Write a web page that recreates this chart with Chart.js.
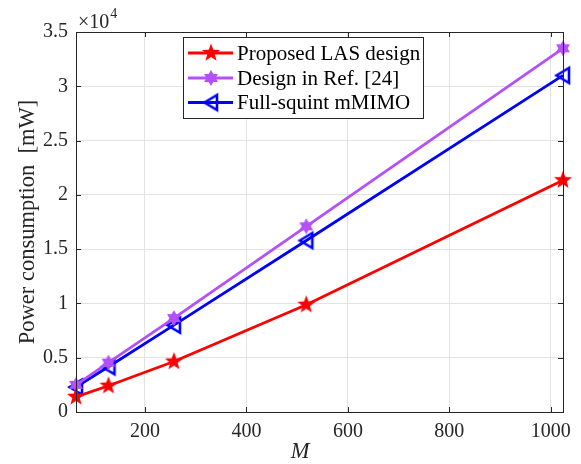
<!DOCTYPE html>
<html>
<head>
<meta charset="utf-8">
<script src="https://cdn.jsdelivr.net/npm/chart.js@4/dist/chart.umd.min.js"></script>
<style>
html,body{margin:0;padding:0;background:#fff;}
#wrap{width:581px;height:464px;position:relative;}
</style>
</head>
<body>
<div id="wrap"><canvas id="c" width="581" height="464"></canvas></div>
<script>
// ---- Data ----
const M_values = [64, 128, 257, 518, 1024];
const proposedLAS = [1400, 2420, 4650, 9880, 21350];
const designRef24 = [2500, 4550, 8650, 17100, 33500];
const fullSquint = [2300, 4170, 8000, 15800, 31000];
const seriesLabels = ['Proposed LAS design', 'Design in Ref. [24]', 'Full-squint mMIMO'];
const xTicks = [200, 400, 600, 800, 1000];
const yTicks = [0, 5000, 10000, 15000, 20000, 25000, 30000, 35000];
const yTickLabels = ['0', '0.5', '1', '1.5', '2', '2.5', '3', '3.5'];

const RED = '#ff0000', PURPLE = 'rgb(180,80,250)', BLUE = '#0000ff';
const FONT = "'Liberation Serif', 'Times New Roman', serif";
const AXC = '#262626';

function makeMarker(kind, color) {
  const s = 26, c = document.createElement('canvas');
  c.width = s; c.height = s;
  const g = c.getContext('2d');
  g.translate(s / 2, s / 2);
  g.beginPath();
  if (kind === 'star5') {
    const R = 9.5, r = 3.9;
    for (let i = 0; i < 10; i++) {
      const a = -Math.PI / 2 + i * Math.PI / 5;
      const rr = i % 2 ? r : R;
      g.lineTo(rr * Math.cos(a), rr * Math.sin(a));
    }
    g.closePath(); g.fillStyle = color; g.fill();
  } else if (kind === 'hex') {
    const R = 8, r = 4.6;
    for (let i = 0; i < 12; i++) {
      const a = -Math.PI / 2 + i * Math.PI / 6;
      const rr = i % 2 ? r : R;
      g.lineTo(rr * Math.cos(a), rr * Math.sin(a));
    }
    g.closePath(); g.fillStyle = color; g.fill();
  } else {
    g.moveTo(-6.5, 0); g.lineTo(6, -7.5); g.lineTo(6, 7.5); g.closePath();
    g.strokeStyle = color; g.lineWidth = 2.6; g.lineJoin = 'miter'; g.stroke();
  }
  return c;
}
const markers = [makeMarker('star5', RED), makeMarker('hex', PURPLE), makeMarker('tri', BLUE)];

function pts(ys) { return M_values.map((x, i) => ({x: x, y: ys[i]})); }

const frame = {
  id: 'frame',
  afterDraw(chart) {
    const {ctx, chartArea: a, scales} = chart;
    ctx.save();
    ctx.strokeStyle = AXC; ctx.lineWidth = 1;
    ctx.strokeRect(Math.round(a.left) + 0.5, Math.round(a.top) + 0.5, Math.round(a.right - a.left), Math.round(a.bottom - a.top));
    const tl = 5;
    ctx.beginPath();
    xTicks.forEach(v => {
      const x = Math.round(scales.x.getPixelForValue(v)) + 0.5;
      ctx.moveTo(x, a.bottom); ctx.lineTo(x, a.bottom - tl);
      ctx.moveTo(x, a.top); ctx.lineTo(x, a.top + tl);
    });
    yTicks.forEach(v => {
      const y = Math.round(scales.y.getPixelForValue(v)) + 0.5;
      ctx.moveTo(a.left, y); ctx.lineTo(a.left + tl, y);
      ctx.moveTo(a.right, y); ctx.lineTo(a.right - tl, y);
    });
    ctx.stroke();
    ctx.fillStyle = AXC;
    ctx.textBaseline = 'alphabetic'; ctx.textAlign = 'left';
    ctx.font = '20px ' + FONT;
    ctx.fillText('\u00d710', 78, 28);
    const w = ctx.measureText('\u00d710').width;
    ctx.font = '14px ' + FONT;
    ctx.fillText('4', 78 + w + 1, 18);
    ctx.font = '22.5px ' + FONT;
    ctx.textAlign = 'center'; ctx.textBaseline = 'middle';
    ctx.save();
    ctx.translate(28, 222); ctx.rotate(-Math.PI / 2);
    ctx.fillText('Power consumption  [mW]', 0, 0);
    ctx.restore();
    ctx.font = 'italic 22.5px ' + FONT;
    ctx.textBaseline = 'alphabetic';
    ctx.fillText('M', 300, 458);
    // legend
    const lx = 183, ly = 37, lw = 240, lh = 81;
    ctx.fillStyle = '#fff';
    ctx.fillRect(lx, ly, lw, lh);
    ctx.strokeStyle = AXC; ctx.lineWidth = 1;
    ctx.strokeRect(lx + 0.5, ly + 0.5, lw, lh);
    const rows = [53, 78, 102.5];
    chart.data.datasets.forEach((ds, i) => {
      const y = rows[i];
      ctx.strokeStyle = ds.borderColor; ctx.lineWidth = ds.borderWidth;
      ctx.beginPath(); ctx.moveTo(188, y); ctx.lineTo(233, y); ctx.stroke();
      const m = ds.pointStyle;
      ctx.drawImage(m, 211 - m.width / 2, y - m.height / 2);
      ctx.fillStyle = '#000';
      ctx.font = '21px ' + FONT;
      ctx.textAlign = 'left'; ctx.textBaseline = 'middle';
      ctx.fillText(ds.label, 237, y + 1);
    });
    ctx.restore();
  }
};

const mk = (label, ys, color, marker) => ({
  label: label, data: pts(ys), borderColor: color, backgroundColor: color,
  borderWidth: 2.8, pointStyle: marker, pointRadius: 9, pointHoverRadius: 9,
  tension: 0, clip: false
});

new Chart(document.getElementById('c'), {
  type: 'line',
  data: {
    datasets: [
      mk(seriesLabels[0], proposedLAS, RED, markers[0]),
      mk(seriesLabels[1], designRef24, PURPLE, markers[1]),
      mk(seriesLabels[2], fullSquint, BLUE, markers[2])
    ]
  },
  options: {
    responsive: false, animation: false,
    layout: {padding: {left: 0, top: 32, right: 18, bottom: 0}},
    plugins: {legend: {display: false}, tooltip: {enabled: false}},
    scales: {
      x: {
        type: 'linear', min: 64, max: 1024,
        afterBuildTicks: s => { s.ticks = xTicks.map(v => ({value: v})); },
        afterFit: s => { s.height = 52; },
        grid: {color: '#e3e3e3', lineWidth: 1, drawTicks: false},
        border: {display: false},
        ticks: {font: {family: FONT, size: 20}, color: AXC, padding: 8, maxRotation: 0,
          callback: v => String(v)}
      },
      y: {
        type: 'linear', min: 0, max: 35000,
        afterBuildTicks: s => { s.ticks = yTicks.map(v => ({value: v})); },
        afterFit: s => { s.width = 76; },
        grid: {color: '#e3e3e3', lineWidth: 1, drawTicks: false},
        border: {display: false},
        ticks: {font: {family: FONT, size: 20}, color: AXC, padding: 8,
          callback: v => yTickLabels[yTicks.indexOf(v)]}
      }
    }
  },
  plugins: [frame]
});
</script>
</body>
</html>
